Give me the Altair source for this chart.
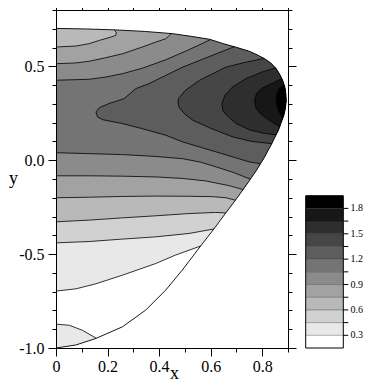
import altair as alt
import pandas as pd

# ---------------- data ----------------
# domain boundary, clockwise from the top-left corner (x = 0) to the bottom (0, -1)
bound_x = [0, 0.116, 0.232, 0.344, 0.453, 0.518, 0.596, 0.646, 0.700, 0.750, 0.781, 0.809, 0.832,
           0.854, 0.868, 0.879, 0.888, 0.892, 0.893, 0.890, 0.884, 0.874, 0.863, 0.849, 0.836,
           0.822, 0.809, 0.793, 0.778, 0.754, 0.727, 0.696, 0.658, 0.612, 0.561, 0.490, 0.426,
           0.348, 0.258, 0.155, 0.077, 0]
bound_y = [0.702, 0.699, 0.694, 0.686, 0.674, 0.661, 0.644, 0.622, 0.601, 0.580, 0.561, 0.541,
           0.519, 0.488, 0.457, 0.426, 0.388, 0.351, 0.314, 0.277, 0.239, 0.202, 0.160, 0.122,
           0.085, 0.051, 0.016, -0.019, -0.053, -0.101, -0.154, -0.213, -0.282, -0.367, -0.457,
           -0.585, -0.691, -0.798, -0.887, -0.949, -0.984, -1.0]

levels = [0.3, 0.45, 0.6, 0.75, 0.9, 1.05, 1.2, 1.35, 1.5, 1.65, 1.8]
level_labels = ["0.3", "", "0.6", "", "0.9", "", "1.2", "", "1.5", "", "1.8"]
band_lo = [0.15, 0.3, 0.45, 0.6, 0.75, 0.9, 1.05, 1.2, 1.35, 1.5, 1.65, 1.8]
band_hi = [0.3, 0.45, 0.6, 0.75, 0.9, 1.05, 1.2, 1.35, 1.5, 1.65, 1.8, 1.95]
band_gray = [255, 232, 209, 185, 162, 139, 116, 93, 70, 46, 23, 0]

# contour lines (level 0.3 .. 1.05 : lower / upper lines starting at x = 0)
c030_x = [0, 0.077, 0.155, 0.258, 0.387, 0.464, 0.561]
c030_y = [-0.697, -0.685, -0.658, -0.612, -0.550, -0.505, -0.457]
c030p_x = [0, 0.052, 0.103, 0.155]
c030p_y = [-0.873, -0.879, -0.906, -0.946]
c045_x = [0, 0.129, 0.258, 0.387, 0.516, 0.612]
c045_y = [-0.440, -0.433, -0.420, -0.408, -0.390, -0.366]
c060_x = [0, 0.129, 0.258, 0.387, 0.516, 0.619, 0.656]
c060_y = [-0.328, -0.319, -0.307, -0.296, -0.284, -0.278, -0.279]
c075lo_x = [0, 0.129, 0.258, 0.387, 0.516, 0.606, 0.660, 0.696]
c075lo_y = [-0.200, -0.197, -0.193, -0.191, -0.192, -0.194, -0.200, -0.213]
c075up_x = [0, 0.077, 0.129, 0.168, 0.213, 0.232, 0.234, 0.226]
c075up_y = [0.603, 0.608, 0.621, 0.638, 0.656, 0.665, 0.679, 0.695]
c090lo_x = [0, 0.129, 0.258, 0.387, 0.490, 0.580, 0.670, 0.725]
c090lo_y = [-0.083, -0.083, -0.085, -0.089, -0.097, -0.110, -0.135, -0.156]
c090up_x = [0, 0.077, 0.129, 0.193, 0.258, 0.335, 0.387, 0.426, 0.447]
c090up_y = [0.514, 0.518, 0.527, 0.546, 0.567, 0.603, 0.629, 0.647, 0.670]
c105lo_x = [0, 0.129, 0.258, 0.387, 0.492, 0.560, 0.622, 0.690, 0.752]
c105lo_y = [0.040, 0.035, 0.030, 0.020, 0.008, -0.010, -0.036, -0.066, -0.100]
c105up_x = [0, 0.129, 0.193, 0.258, 0.335, 0.426, 0.510, 0.600]
c105up_y = [0.426, 0.431, 0.443, 0.461, 0.490, 0.535, 0.585, 0.643]

# closed-off contours (level 1.2 .. 1.8), from upper boundary end to lower boundary end
c120_x = [0.692, 0.622, 0.492, 0.426, 0.361, 0.309, 0.284, 0.264, 0.206, 0.168, 0.155, 0.161,
          0.181, 0.258, 0.335, 0.426, 0.492, 0.622, 0.750, 0.790]
c120_y = [0.606, 0.567, 0.496, 0.452, 0.408, 0.381, 0.351, 0.328, 0.302, 0.280, 0.257, 0.230,
          0.216, 0.195, 0.168, 0.133, 0.097, 0.044, -0.009, -0.017]
c135_x = [0.808, 0.730, 0.660, 0.557, 0.500, 0.476, 0.473, 0.478, 0.500, 0.531, 0.600, 0.686, 0.760, 0.834]
c135_y = [0.543, 0.520, 0.496, 0.426, 0.370, 0.330, 0.310, 0.280, 0.245, 0.213, 0.170, 0.124, 0.100, 0.089]
c150_x = [0.852, 0.800, 0.738, 0.685, 0.655, 0.643, 0.647, 0.665, 0.699, 0.750, 0.800, 0.853]
c150_y = [0.492, 0.470, 0.435, 0.390, 0.345, 0.300, 0.265, 0.235, 0.195, 0.162, 0.145, 0.135]
c165_x = [0.877, 0.840, 0.800, 0.778, 0.770, 0.775, 0.795, 0.830, 0.868]
c165_y = [0.435, 0.410, 0.385, 0.355, 0.320, 0.280, 0.245, 0.210, 0.178]
c180_x = [0.886, 0.867, 0.857, 0.854, 0.857, 0.866, 0.880]
c180_y = [0.400, 0.385, 0.355, 0.325, 0.290, 0.255, 0.225]

xticks = [round(0.1 * i, 1) for i in range(10)]
yticks = [round(-1.0 + 0.1 * i, 1) for i in range(19)]

# ---------------- geometry helpers ----------------
def snap(px, py):
    best = None
    for i in range(len(bound_x) - 1):
        ax, ay = bound_x[i], bound_y[i]
        dx, dy = bound_x[i + 1] - ax, bound_y[i + 1] - ay
        t = ((px - ax) * dx + (py - ay) * dy) / (dx * dx + dy * dy)
        t = min(1.0, max(0.0, t))
        qx, qy = ax + t * dx, ay + t * dy
        d = (qx - px) ** 2 + (qy - py) ** 2
        if best is None or d < best[0]:
            best = (d, i + t, qx, qy)
    return best[1], (best[2], best[3])


def between(s_hi, s_lo):
    return [(bound_x[i], bound_y[i]) for i in range(len(bound_x) - 1, -1, -1)
            if s_lo + 1e-9 < i < s_hi - 1e-9]


def end_snapped(xs, ys):
    pts = list(zip(xs, ys))
    s, q = snap(*pts[-1])
    pts[-1] = q
    return s, pts


def both_snapped(xs, ys):
    pts = list(zip(xs, ys))
    s1, q1 = snap(*pts[0])
    s2, q2 = snap(*pts[-1])
    pts[0], pts[-1] = q1, q2
    return s1, s2, pts


lines = []
polys = []

for band, (lx, ly) in [(1, (c030_x, c030_y)), (2, (c045_x, c045_y)), (3, (c060_x, c060_y))]:
    s, pts = end_snapped(lx, ly)
    lines.append(pts)
    polys.append((band, pts + between(s, -1)))
    if band == 1:
        s2, pp = end_snapped(c030p_x, c030p_y)
        lines.append(pp)
        polys.append((1, pp + [(bound_x[i], bound_y[i]) for i in range(len(bound_x)) if i > s2 + 1e-9]))

for band, lo, up in [(4, (c075lo_x, c075lo_y), (c075up_x, c075up_y)),
                     (5, (c090lo_x, c090lo_y), (c090up_x, c090up_y)),
                     (6, (c105lo_x, c105lo_y), (c105up_x, c105up_y))]:
    s_l, lp = end_snapped(*lo)
    s_u, upp = end_snapped(*up)
    lines += [lp, upp]
    polys.append((band, lp + between(s_l, s_u) + upp[::-1]))

for band, (cx, cy) in [(7, (c120_x, c120_y)), (8, (c135_x, c135_y)), (9, (c150_x, c150_y)),
                       (10, (c165_x, c165_y)), (11, (c180_x, c180_y))]:
    s_u, s_l, cp = both_snapped(cx, cy)
    lines.append(cp)
    polys.append((band, cp + between(s_l, s_u)))


def gray(g):
    return "#%02x%02x%02x" % (g, g, g)


FONT = "Liberation Serif"
SX = alt.Scale(domain=[0, 0.9], nice=False, zero=False)
SY = alt.Scale(domain=[-1.0, 0.8], nice=False, zero=False)
major_x = "abs(datum.value*5-round(datum.value*5))<0.001"
major_y = "abs(datum.value*2-round(datum.value*2))<0.001"
common = dict(domainColor="black", domainWidth=1, tickColor="black", tickWidth=1, grid=False,
              zindex=1, labelFlush=False, labelFont=FONT, labelFontSize=16, labelColor="black",
              titleFont=FONT, titleFontSize=18, titleFontWeight="normal", titleColor="black")

ax_bottom = alt.Axis(orient="bottom", values=xticks,
                     tickSize={"condition": {"test": major_x, "value": 8}, "value": 4},
                     labelExpr=f"{major_x} ? (datum.value == 0 ? '0' : format(datum.value, '.1f')) : ''",
                     labelPadding=2, title="x", titleX=118, titleY=30, titleAlign="center",
                     titleBaseline="alphabetic", **common)
ax_left = alt.Axis(orient="left", values=yticks,
                   tickSize={"condition": {"test": major_y, "value": 8}, "value": 4},
                   labelExpr=f"{major_y} ? ((datum.value < 0 ? '-' : '') + format(abs(datum.value), '.1f')) : ''",
                   labelPadding=4, title="y", titleAngle=0, titleX=-43, titleY=173,
                   titleAlign="center", titleBaseline="alphabetic", **common)
ax_top = alt.Axis(orient="top", values=xticks, labels=False, title=None,
                  tickSize={"condition": {"test": major_x, "value": 8}, "value": 4},
                  domainColor="black", domainWidth=1, tickColor="black", tickWidth=1, grid=False, zindex=1)
ax_right = alt.Axis(orient="right", values=yticks, labels=False, title=None,
                    tickSize={"condition": {"test": major_y, "value": 8}, "value": 4},
                    domainColor="black", domainWidth=1, tickColor="black", tickWidth=1, grid=False, zindex=1)

fill_layers = []
for band, pts in polys:
    df = pd.DataFrame({"x": [p[0] for p in pts], "y": [p[1] for p in pts], "i": list(range(len(pts)))})
    fill_layers.append(
        alt.Chart(df).mark_line(fill=gray(band_gray[band]), strokeWidth=0).encode(
            x=alt.X("x:Q", scale=SX, axis=None),
            y=alt.Y("y:Q", scale=SY, axis=None),
            order="i:Q",
        )
    )

rows = []
for k, pts in enumerate(lines):
    for i, (x, y) in enumerate(pts):
        rows.append({"x": x, "y": y, "i": i, "line": k})
lines_df = pd.DataFrame(rows)
lines_layer = alt.Chart(lines_df).mark_line(color="black", strokeWidth=0.8).encode(
    x=alt.X("x:Q", scale=SX, axis=ax_top),
    y=alt.Y("y:Q", scale=SY, axis=ax_right),
    detail="line:N",
    order="i:Q",
)

bound_df = pd.DataFrame({"x": bound_x, "y": bound_y, "i": list(range(len(bound_x)))})
bound_layer = alt.Chart(bound_df).mark_line(color="black", strokeWidth=0.9).encode(
    x=alt.X("x:Q", scale=SX, axis=ax_bottom),
    y=alt.Y("y:Q", scale=SY, axis=ax_left),
    order="i:Q",
)

main = alt.layer(*fill_layers, lines_layer, bound_layer).resolve_axis(x="independent", y="independent")

# ---------------- colour bar (own vertical scale) ----------------
SC = alt.Scale(domain=[0.15, 4.145], nice=False, zero=False)
cb_df = pd.DataFrame({"lo": band_lo, "hi": band_hi, "c": [gray(g) for g in band_gray]})
lv_df = pd.DataFrame({"v": levels, "t": level_labels})
cb_rect = alt.Chart(cb_df).mark_rect(strokeWidth=0).encode(
    x=alt.value(249.7), x2=alt.value(287.3),
    y=alt.Y("lo:Q", scale=SC, axis=None), y2="hi:Q",
    fill=alt.Fill("c:N", scale=None),
)
cb_sep = alt.Chart(lv_df).mark_rule(color="black", strokeWidth=0.6, opacity=0.5).encode(
    x=alt.value(249.7), x2=alt.value(287.3),
    y=alt.Y("v:Q", scale=SC, axis=None),
)
cb_tick = alt.Chart(lv_df).mark_rule(color="black", strokeWidth=1).encode(
    x=alt.value(287.3), x2=alt.value(292.3),
    y=alt.Y("v:Q", scale=SC, axis=None),
)
cb_text = alt.Chart(lv_df).mark_text(align="left", baseline="middle", font=FONT, fontSize=10,
                                     color="black").encode(
    x=alt.value(294.5),
    y=alt.Y("v:Q", scale=SC, axis=None),
    text="t:N",
)
cb_border = alt.Chart(pd.DataFrame({"lo": [band_lo[0]], "hi": [band_hi[-1]]})).mark_rect(
    fill="transparent", stroke="black", strokeWidth=1).encode(
    x=alt.value(249.7), x2=alt.value(287.3),
    y=alt.Y("lo:Q", scale=SC, axis=None), y2="hi:Q",
)
cbar = alt.layer(cb_rect, cb_sep, cb_tick, cb_text, cb_border)

chart = alt.layer(main, cbar).resolve_scale(y="independent").properties(
    width=232, height=338,
    autosize=alt.AutoSizeParams(type="none"),
    padding={"left": 48, "top": 2, "right": 75, "bottom": 33},
).configure_view(stroke=None)

chart.save("out.html", embed_options={"renderer": "svg", "actions": False})
